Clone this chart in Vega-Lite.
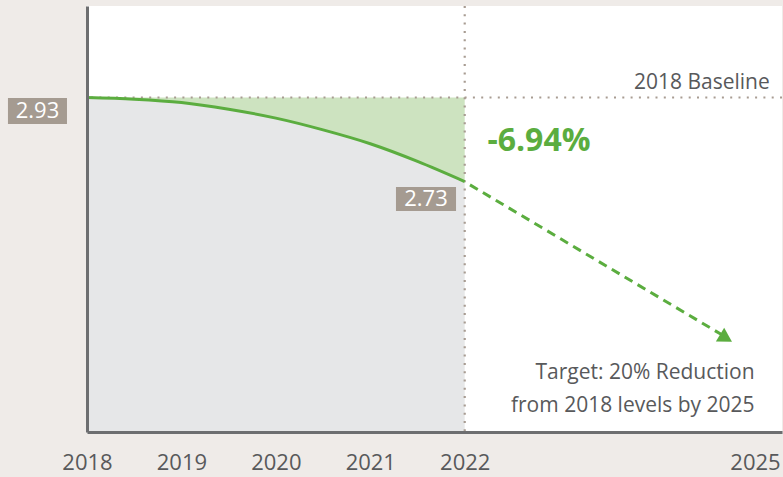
{
  "$schema": "https://vega.github.io/schema/vega-lite/v6.json",
  "autosize": "none",
  "width": 695,
  "height": 426,
  "padding": {"left": 87, "top": 6, "right": 1, "bottom": 45},
  "background": "#efebe8",
  "config": {
    "view": {"fill": "white", "stroke": null},
    "font": "Open Sans"
  },
  "datasets": {
    "curve": [
      {"year": 2018, "value": 2.93},
      {"year": 2018.5, "value": 2.926},
      {"year": 2019, "value": 2.918},
      {"year": 2019.5, "value": 2.902},
      {"year": 2020, "value": 2.881},
      {"year": 2020.5, "value": 2.853},
      {"year": 2021, "value": 2.82},
      {"year": 2021.5, "value": 2.778},
      {"year": 2022, "value": 2.73}
    ],
    "arrow": [
      {"year": 2022.056, "value": 2.722},
      {"year": 2024.724, "value": 2.365}
    ],
    "head": [{"year": 2024.767, "value": 2.357}],
    "boxes": [
      {"x1": 2017.163, "x2": 2017.788, "y1": 2.929, "y2": 2.867, "cx": 2017.476, "cy": 2.898, "label": "2.93"},
      {"x1": 2021.272, "x2": 2021.908, "y1": 2.717, "y2": 2.66, "cx": 2021.59, "cy": 2.689, "label": "2.73"}
    ],
    "baseline": [{"year": 2025.23, "value": 2.93, "label": "2018 Baseline"}],
    "notes": [
      {"year": 2025.07, "value": 2.274, "label": "Target: 20% Reduction"},
      {"year": 2025.07, "value": 2.195, "label": "from 2018 levels by 2025"}
    ],
    "pct": [{"year": 2022.24, "value": 2.826, "label": "-6.94%"}]
  },
  "layer": [
    {
      "data": {"name": "curve"},
      "mark": {"type": "area", "color": "#e6e7e8", "interpolate": "monotone"},
      "encoding": {
        "x": {
          "field": "year", "type": "quantitative",
          "scale": {"domain": [2018, 2025.36], "nice": false, "zero": false},
          "axis": {
            "title": null,
            "values": [2018, 2019, 2020, 2021, 2022, 2025],
            "format": "d",
            "grid": false,
            "ticks": false,
            "zindex": 1,
            "labelFlush": false,
            "domainColor": "#6d6e70",
            "domainWidth": 3,
            "labelFontSize": 22,
            "labelColor": "#58595b",
            "labelPadding": 20,
            "labelOffset": {"condition": {"test": "datum.value == 2025", "value": 7}, "value": 0}
          }
        },
        "y": {
          "field": "value", "type": "quantitative",
          "scale": {"domain": [2.1336, 3.1479], "nice": false, "zero": false},
          "axis": {
            "title": null, "labels": false, "ticks": false, "grid": false, "zindex": 1,
            "domainColor": "#6d6e70", "domainWidth": 3
          }
        },
        "y2": {"datum": 2.1336}
      }
    },
    {
      "data": {"name": "curve"},
      "mark": {"type": "area", "color": "#cde3c0", "interpolate": "monotone"},
      "encoding": {
        "x": {"field": "year", "type": "quantitative"},
        "y": {"field": "value", "type": "quantitative"},
        "y2": {"datum": 2.93}
      }
    },
    {
      "data": {"values": [{"v": 2.93}]},
      "mark": {"type": "rule", "color": "#a89c92", "strokeWidth": 2.2, "strokeDash": [2, 6.3]},
      "encoding": {"y": {"field": "v", "type": "quantitative"}}
    },
    {
      "data": {"values": [{"v": 2022}]},
      "mark": {"type": "rule", "color": "#a89c92", "strokeWidth": 2.2, "strokeDash": [2, 6.3]},
      "encoding": {"x": {"field": "v", "type": "quantitative"}}
    },
    {
      "data": {"name": "curve"},
      "mark": {"type": "line", "color": "#5bad3f", "strokeWidth": 3, "interpolate": "monotone"},
      "encoding": {
        "x": {"field": "year", "type": "quantitative"},
        "y": {"field": "value", "type": "quantitative"}
      }
    },
    {
      "data": {"name": "arrow"},
      "mark": {"type": "line", "color": "#5bad3f", "strokeWidth": 3, "strokeDash": [9, 6]},
      "encoding": {
        "x": {"field": "year", "type": "quantitative"},
        "y": {"field": "value", "type": "quantitative"}
      }
    },
    {
      "data": {"name": "head"},
      "mark": {"type": "point", "shape": "triangle-right", "filled": true, "color": "#5bad3f", "opacity": 1, "size": 260, "angle": 31},
      "encoding": {
        "x": {"field": "year", "type": "quantitative"},
        "y": {"field": "value", "type": "quantitative"}
      }
    },
    {
      "data": {"name": "boxes"},
      "mark": {"type": "rect", "color": "#a59b91"},
      "encoding": {
        "x": {"field": "x1", "type": "quantitative"},
        "x2": {"field": "x2"},
        "y": {"field": "y1", "type": "quantitative"},
        "y2": {"field": "y2"}
      }
    },
    {
      "data": {"name": "boxes"},
      "mark": {"type": "text", "color": "white", "fontSize": 22, "align": "center", "baseline": "middle"},
      "encoding": {
        "x": {"field": "cx", "type": "quantitative"},
        "y": {"field": "cy", "type": "quantitative"},
        "text": {"field": "label"}
      }
    },
    {
      "data": {"name": "baseline"},
      "mark": {"type": "text", "color": "#58595b", "fontSize": 21, "align": "right", "baseline": "middle", "dy": -15},
      "encoding": {
        "x": {"field": "year", "type": "quantitative"},
        "y": {"field": "value", "type": "quantitative"},
        "text": {"field": "label"}
      }
    },
    {
      "data": {"name": "notes"},
      "mark": {"type": "text", "color": "#58595b", "fontSize": 21, "align": "right", "baseline": "middle"},
      "encoding": {
        "x": {"field": "year", "type": "quantitative"},
        "y": {"field": "value", "type": "quantitative"},
        "text": {"field": "label"}
      }
    },
    {
      "data": {"name": "pct"},
      "mark": {"type": "text", "color": "#5bad3f", "fontSize": 32, "fontWeight": "bold", "align": "left", "baseline": "middle"},
      "encoding": {
        "x": {"field": "year", "type": "quantitative"},
        "y": {"field": "value", "type": "quantitative"},
        "text": {"field": "label"}
      }
    }
  ]
}
